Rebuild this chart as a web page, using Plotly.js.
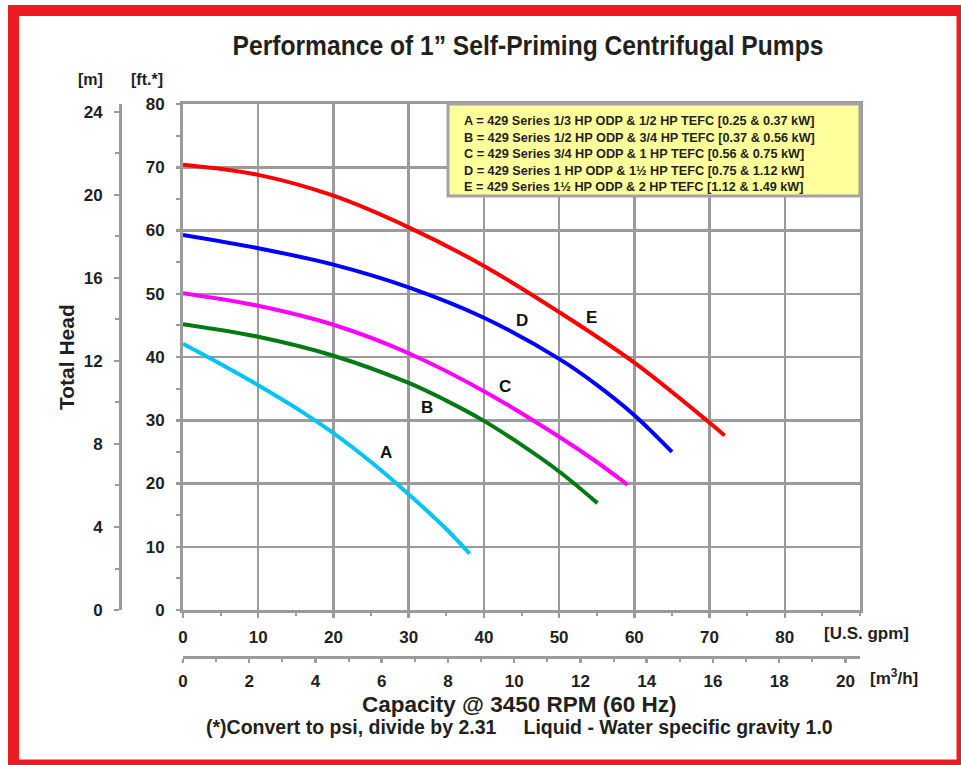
<!DOCTYPE html>
<html>
<head>
<meta charset="utf-8">
<script src="https://cdn.plot.ly/plotly-3.0.1.min.js"></script>
<style>html,body{margin:0;padding:0;background:#fff;}#chart{width:961px;height:765px;}</style>
</head>
<body>
<div id="chart"></div>
<script>
// ---- data ----
const seriesNames = ["A", "B", "C", "D", "E"];
const seriesColors = ["#00c4f4", "#007a12", "#ff00ff", "#0000ff", "#ff0000"];

const gpmA = [0, 5, 10, 15, 20, 25, 30, 35, 38.1];
const ftA  = [42.1, 38.9, 35.55, 31.95, 27.95, 23.4, 18.3, 12.8, 8.9];

const gpmB = [0, 10, 20, 30, 35, 40, 45, 50, 55.1];
const ftB  = [45.2, 43.2, 40.2, 35.9, 33.1, 29.9, 26.1, 21.9, 16.9];

const gpmC = [0, 10, 20, 30, 40, 50, 55, 59.1];
const ftC  = [50.1, 48.1, 45.1, 40.6, 34.6, 27.4, 23.4, 19.8];

const gpmD = [0, 10, 20, 30, 40, 50, 55, 60, 65.0];
const ftD  = [59.3, 57.2, 54.6, 51.0, 46.2, 39.7, 35.6, 30.8, 25.0];

const gpmE = [0, 10, 20, 30, 40, 50, 60, 70, 72.0];
const ftE  = [70.4, 68.8, 65.5, 60.5, 54.4, 47.1, 39.1, 29.6, 27.6];

const legendLines = [
  "A = 429 Series 1/3 HP ODP & 1/2 HP TEFC [0.25 & 0.37 kW]",
  "B = 429 Series 1/2 HP ODP & 3/4 HP TEFC [0.37 & 0.56 kW]",
  "C = 429 Series 3/4 HP ODP & 1 HP TEFC [0.56 & 0.75 kW]",
  "D = 429 Series 1 HP ODP & 1½ HP TEFC [0.75 & 1.12 kW]",
  "E = 429 Series 1½ HP ODP & 2 HP TEFC [1.12 & 1.49 kW]"
];

const gpmTicks = [0, 10, 20, 30, 40, 50, 60, 70, 80];
const m3hTicks = [0, 2, 4, 6, 8, 10, 12, 14, 16, 18, 20];
const ftTicks  = [0, 10, 20, 30, 40, 50, 60, 70, 80];
const mTicks   = [0, 4, 8, 12, 16, 20, 24];

// unit conversions
const FT_PER_M = 3.2808;
const GPM_PER_M3H = 4.4029;

// ---- layout helpers (pixel -> paper) ----
const W = 961, H = 765, L = 120, R = 101, T = 104, B = 108;
const PW = W - L - R, PH = H - T - B;
const X = px => (px - L) / PW;
const Y = py => (H - B - py) / PH;

const font = "Liberation Sans, Arial, sans-serif";
const txt = "#231f20";
const grid = "#9b9b9b";

const xs = [gpmA, gpmB, gpmC, gpmD, gpmE];
const ys = [ftA, ftB, ftC, ftD, ftE];
const traces = seriesNames.map((n, i) => ({
  type: "scatter", mode: "lines", name: n,
  x: xs[i], y: ys[i],
  line: {color: seriesColors[i], width: 4, shape: "spline", smoothing: 1},
  hoverinfo: "x+y+name"
}));
// empty trace so the metric (secondary) axes get drawn
traces.push({type: "scatter", mode: "lines", x: [], y: [], xaxis: "x2", yaxis: "y2", showlegend: false, hoverinfo: "skip"});

const labelPos = {A: [27, 24.9], B: [32.4, 32], C: [42.8, 35.3], D: [45, 45.7], E: [54.3, 46.3]};

const tickFont = {family: font, size: 17, color: txt, weight: "bold"};

const layout = {
  width: W, height: H,
  margin: {l: L, r: R, t: T, b: B},
  paper_bgcolor: "#ffffff", plot_bgcolor: "#ffffff",
  showlegend: false,
  title: {
    text: "Performance of 1\u201D Self-Priming Centrifugal Pumps",
    font: {family: font, size: 27, color: txt, weight: "bold"},
    xref: "container", yref: "container", x: 528 / W, y: 1 - 46 / H, xanchor: "center", yanchor: "middle"
  },
  xaxis: {
    domain: [X(183), 1], range: [0, 90], anchor: "y",
    tickvals: gpmTicks, ticks: "outside", ticklen: 5, tickwidth: 2.5, tickcolor: grid,
    minor: {dtick: 5, ticks: "outside", ticklen: 3, tickwidth: 2, tickcolor: grid, showgrid: false},
    showgrid: true, gridcolor: grid, gridwidth: 2.5, dtick: 10,
    showline: true, linecolor: grid, linewidth: 3, mirror: true,
    tickfont: tickFont, ticklabelstandoff: 5, zeroline: false, fixedrange: true
  },
  xaxis2: {
    overlaying: "x", anchor: "free", position: 0, side: "bottom",
    range: [0, 90 / GPM_PER_M3H],
    tickvals: m3hTicks, ticks: "outside", ticklen: 4, tickwidth: 2.5, tickcolor: grid,
    minor: {dtick: 1, ticks: "outside", ticklen: 3, tickwidth: 2, tickcolor: grid},
    showgrid: false, showline: true, linecolor: grid, linewidth: 3,
    tickfont: tickFont, ticklabelstandoff: 4, zeroline: false, fixedrange: true
  },
  yaxis: {
    domain: [Y(610), 1], range: [0, 80], anchor: "x",
    tickvals: ftTicks, ticks: "outside", ticklen: 4, tickwidth: 2.5, tickcolor: grid,
    minor: {dtick: 5, ticks: "outside", ticklen: 4, tickwidth: 2, tickcolor: grid, showgrid: false},
    showgrid: true, gridcolor: grid, gridwidth: 2.5,
    showline: true, linecolor: grid, linewidth: 3, mirror: true,
    tickfont: tickFont, ticklabelstandoff: 8, zeroline: false, fixedrange: true
  },
  yaxis2: {
    overlaying: "y", anchor: "free", position: 0, side: "left",
    range: [0, 80 / FT_PER_M],
    tickvals: mTicks, ticks: "outside", ticklen: 5, tickwidth: 2.5, tickcolor: grid,
    minor: {dtick: 2, ticks: "outside", ticklen: 4, tickwidth: 2, tickcolor: grid},
    showgrid: false, showline: true, linecolor: grid, linewidth: 3,
    tickfont: tickFont, ticklabelstandoff: 8, zeroline: false, fixedrange: true
  },
  shapes: [
    {type: "rect", xref: "paper", yref: "paper", x0: X(448), x1: X(860), y0: Y(104), y1: Y(196),
     fillcolor: "#ffff9c", line: {color: "#a3a3a3", width: 3}, layer: "above"},
    {type: "rect", xref: "paper", yref: "paper", x0: X(13.5), x1: X(962), y0: Y(10.5), y1: Y(765),
     fillcolor: "rgba(0,0,0,0)", line: {color: "#ed1c24", width: 11}, layer: "above"}
  ],
  annotations: [
    {xref: "paper", yref: "paper", x: X(462), y: Y(112), xanchor: "left", yanchor: "top", align: "left",
     showarrow: false, text: legendLines.join("<br>"),
     font: {family: font, size: 12.7, color: txt, weight: "bold"}},
    {xref: "paper", yref: "paper", x: X(822), y: Y(633), xanchor: "left", yanchor: "middle", showarrow: false,
     text: "[U.S. gpm]", font: tickFont},
    {xref: "paper", yref: "paper", x: X(868), y: Y(677), xanchor: "left", yanchor: "middle", showarrow: false,
     text: "[m<sup>3</sup>/h]", font: tickFont},
    {xref: "paper", yref: "paper", x: X(90), y: Y(80), xanchor: "center", yanchor: "middle", showarrow: false,
     text: "[m]", font: {family: font, size: 16, color: txt, weight: "bold"}},
    {xref: "paper", yref: "paper", x: X(147), y: Y(80), xanchor: "center", yanchor: "middle", showarrow: false,
     text: "[ft.*]", font: {family: font, size: 16, color: txt, weight: "bold"}},
    {xref: "paper", yref: "paper", x: X(66), y: Y(357), xanchor: "center", yanchor: "middle", showarrow: false,
     textangle: -90, text: "Total Head", font: {family: font, size: 21, color: txt, weight: "bold"}},
    {xref: "paper", yref: "paper", x: X(519), y: Y(704), xanchor: "center", yanchor: "middle", showarrow: false,
     text: "Capacity @ 3450 RPM (60 Hz)", font: {family: font, size: 22.5, color: txt, weight: "bold"}},
    {xref: "paper", yref: "paper", x: X(519), y: Y(727), xanchor: "center", yanchor: "middle", showarrow: false,
     text: "(*)Convert to psi, divide by 2.31&nbsp;&nbsp;&nbsp;&nbsp;&nbsp;Liquid - Water specific gravity 1.0",
     font: {family: font, size: 19.5, color: txt, weight: "bold"}}
  ].concat(seriesNames.map(n => ({
    xref: "x", yref: "y", x: labelPos[n][0], y: labelPos[n][1], showarrow: false,
    text: n, font: {family: font, size: 17, color: "#111", weight: "bold"}
  })))
};

Plotly.newPlot("chart", traces, layout, {displayModeBar: false, staticPlot: true}).then(gd => {
  // the reference title is set in a condensed face: narrow the drawn title text to its width
  const t = gd.querySelector(".gtitle");
  if (t) {
    const bb = t.getBBox();
    const sx = 591 / bb.width;
    const cx = bb.x + bb.width / 2;
    t.setAttribute("transform", `translate(${cx},0) scale(${sx},1) translate(${-cx},0)`);
  }
});
</script>
</body>
</html>
